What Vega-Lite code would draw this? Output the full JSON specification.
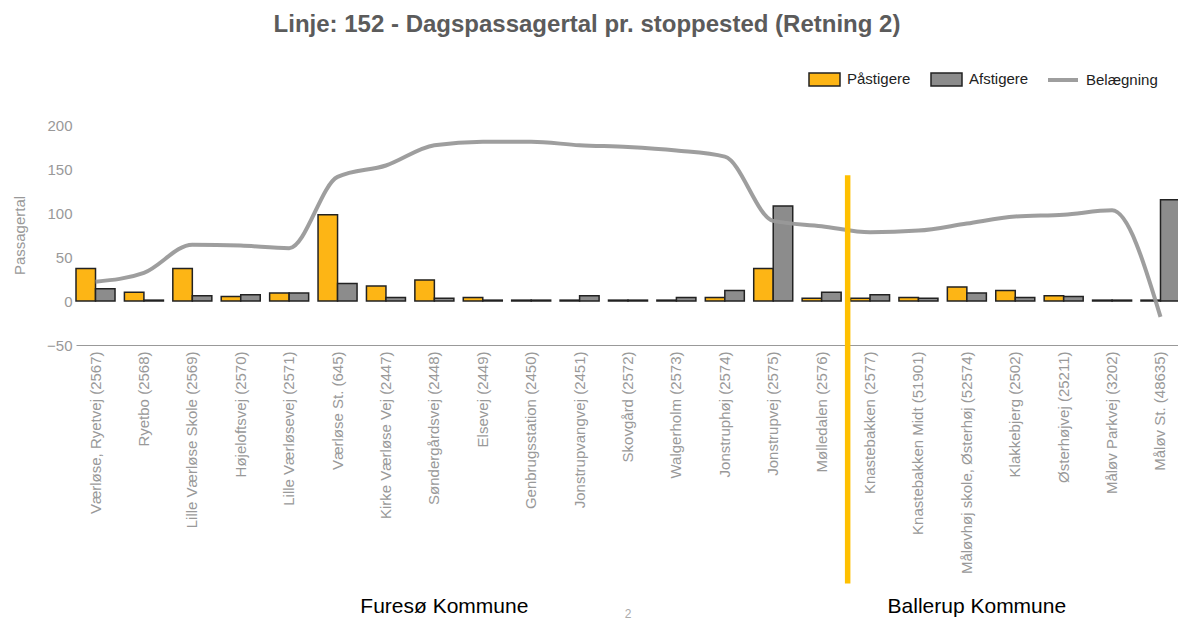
{
  "$schema": "https://vega.github.io/schema/vega-lite/v6.json",
  "autosize": {"type": "none"},
  "width": 1104,
  "height": 220,
  "padding": {"left": 76, "top": 125, "right": 0, "bottom": 277},
  "background": "white",
  "title": {
    "text": "Linje: 152 - Dagspassagertal pr. stoppested (Retning 2)",
    "font": "Liberation Sans",
    "fontSize": 24,
    "fontWeight": "bold",
    "color": "#5b5b5b",
    "anchor": "middle",
    "dx": -41,
    "offset": 26
  },
  "config": {
    "view": {"stroke": null},
    "font": "Liberation Sans"
  },
  "datasets": {
    "stops": [
      {"stop": "Værløse, Ryetvej (2567)", "Påstigere": 37, "Afstigere": 14, "Belægning": 22},
      {"stop": "Ryetbo (2568)", "Påstigere": 10, "Afstigere": 1, "Belægning": 32},
      {"stop": "Lille Værløse Skole (2569)", "Påstigere": 37, "Afstigere": 6, "Belægning": 64},
      {"stop": "Højeloftsvej (2570)", "Påstigere": 5, "Afstigere": 7, "Belægning": 63},
      {"stop": "Lille Værløsevej (2571)", "Påstigere": 9, "Afstigere": 9, "Belægning": 60},
      {"stop": "Værløse St. (645)", "Påstigere": 98, "Afstigere": 20, "Belægning": 141},
      {"stop": "Kirke Værløse Vej (2447)", "Påstigere": 17, "Afstigere": 4, "Belægning": 154},
      {"stop": "Søndergårdsvej (2448)", "Påstigere": 24, "Afstigere": 3, "Belægning": 177},
      {"stop": "Elsevej (2449)", "Påstigere": 4, "Afstigere": 1, "Belægning": 181},
      {"stop": "Genbrugsstation (2450)", "Påstigere": 1, "Afstigere": 1, "Belægning": 181},
      {"stop": "Jonstrupvangvej (2451)", "Påstigere": 1, "Afstigere": 6, "Belægning": 177},
      {"stop": "Skovgård (2572)", "Påstigere": 1, "Afstigere": 1, "Belægning": 175},
      {"stop": "Walgerholm (2573)", "Påstigere": 1, "Afstigere": 4, "Belægning": 171},
      {"stop": "Jonstruphøj (2574)", "Påstigere": 4, "Afstigere": 12, "Belægning": 164},
      {"stop": "Jonstrupvej (2575)", "Påstigere": 37, "Afstigere": 108, "Belægning": 91},
      {"stop": "Mølledalen (2576)", "Påstigere": 3, "Afstigere": 10, "Belægning": 85},
      {"stop": "Knastebakken (2577)", "Påstigere": 3, "Afstigere": 7, "Belægning": 78},
      {"stop": "Knastebakken Midt (51901)", "Påstigere": 4, "Afstigere": 3, "Belægning": 80},
      {"stop": "Måløvhøj skole, Østerhøj (52574)", "Påstigere": 16, "Afstigere": 9, "Belægning": 88},
      {"stop": "Klakkebjerg (2502)", "Påstigere": 12, "Afstigere": 4, "Belægning": 96},
      {"stop": "Østerhøjvej (25211)", "Påstigere": 6, "Afstigere": 5, "Belægning": 98},
      {"stop": "Måløv Parkvej (3202)", "Påstigere": 1, "Afstigere": 1, "Belægning": 103},
      {"stop": "Måløv St. (48635)", "Påstigere": 1, "Afstigere": 115, "Belægning": -18}
    ],
    "kommuner": [
      {"stop": "Søndergårdsvej (2448)", "tekst": "Furesø Kommune"},
      {"stop": "Måløvhøj skole, Østerhøj (52574)", "tekst": "Ballerup Kommune"}
    ],
    "side": [
      {"stop": "Skovgård (2572)", "tekst": "2"}
    ],
    "graense": [
      {"stop": "Mølledalen (2576)"}
    ]
  },
  "layer": [
    {
      "data": {"name": "stops"},
      "transform": [{"fold": ["Påstigere", "Afstigere"], "as": ["serie", "antal"]}],
      "mark": {"type": "bar", "stroke": "#222222", "strokeWidth": 1.5},
      "encoding": {
        "x": {
          "field": "stop",
          "type": "nominal",
          "scale": {
            "domain": [
              "Værløse, Ryetvej (2567)", "Ryetbo (2568)", "Lille Værløse Skole (2569)", "Højeloftsvej (2570)",
              "Lille Værløsevej (2571)", "Værløse St. (645)", "Kirke Værløse Vej (2447)", "Søndergårdsvej (2448)",
              "Elsevej (2449)", "Genbrugsstation (2450)", "Jonstrupvangvej (2451)", "Skovgård (2572)",
              "Walgerholm (2573)", "Jonstruphøj (2574)", "Jonstrupvej (2575)", "Mølledalen (2576)",
              "Knastebakken (2577)", "Knastebakken Midt (51901)", "Måløvhøj skole, Østerhøj (52574)",
              "Klakkebjerg (2502)", "Østerhøjvej (25211)", "Måløv Parkvej (3202)", "Måløv St. (48635)"
            ],
            "paddingInner": 0.194,
            "paddingOuter": 0
          },
          "axis": {
            "title": null,
            "labelAngle": -90,
            "labelFont": "Liberation Sans",
            "labelFontSize": 15,
            "labelColor": "#999999",
            "labelPadding": 6,
            "labelLimit": 0,
            "labelOverlap": false,
            "ticks": false,
            "grid": false,
            "domainColor": "#999999",
            "domainWidth": 1
          }
        },
        "xOffset": {
          "field": "serie",
          "type": "nominal",
          "scale": {"domain": ["Påstigere", "Afstigere"], "paddingInner": 0, "paddingOuter": 0}
        },
        "y": {
          "field": "antal",
          "type": "quantitative",
          "scale": {"domain": [-50, 200], "nice": false},
          "axis": {
            "title": "Passagertal",
            "titleFont": "Liberation Sans",
            "titleFontSize": 15,
            "titleFontWeight": "normal",
            "titleColor": "#999999",
            "titlePadding": 19,
            "values": [-50, 0, 50, 100, 150, 200],
            "labelFont": "Liberation Sans",
            "labelFontSize": 15,
            "labelColor": "#999999",
            "labelPadding": 4,
            "domain": false,
            "ticks": false,
            "grid": false
          }
        },
        "fill": {
          "field": "serie",
          "type": "nominal",
          "scale": {"domain": ["Påstigere", "Afstigere"], "range": ["#FDB515", "#8C8C8C"]},
          "legend": {
            "title": null,
            "orient": "none",
            "direction": "horizontal",
            "legendX": 732,
            "legendY": -62.5,
            "padding": 0,
            "symbolType": "M-1,-0.42L1,-0.42L1,0.42L-1,0.42Z",
            "symbolSize": 961,
            "symbolStrokeColor": "#222222",
            "symbolStrokeWidth": 1.5,
            "symbolOpacity": 1,
            "labelFont": "Liberation Sans",
            "labelFontSize": 15,
            "labelColor": "#222222",
            "labelOffset": 6,
            "columnPadding": 17
          }
        }
      }
    },
    {
      "data": {"name": "stops"},
      "mark": {"type": "line", "interpolate": "monotone", "strokeWidth": 4, "opacity": 0.95},
      "encoding": {
        "x": {"field": "stop", "type": "nominal"},
        "y": {"field": "Belægning", "type": "quantitative"},
        "stroke": {
          "datum": "Belægning",
          "scale": {"domain": ["Belægning"], "range": ["#999999"]},
          "legend": {
            "title": null,
            "orient": "none",
            "legendX": 970,
            "legendY": -62,
            "padding": 0,
            "symbolType": "stroke",
            "symbolSize": 900,
            "symbolStrokeWidth": 4,
            "labelFont": "Liberation Sans",
            "labelFontSize": 15,
            "labelColor": "#222222",
            "labelOffset": 6
          }
        }
      }
    },
    {
      "data": {"name": "graense"},
      "mark": {"type": "rule", "color": "#FFC000", "strokeWidth": 5.5},
      "encoding": {
        "x": {"field": "stop", "type": "nominal", "bandPosition": 1.167},
        "y": {"datum": 143},
        "y2": {"datum": -321}
      }
    },
    {
      "data": {"name": "kommuner"},
      "mark": {"type": "text", "font": "Liberation Sans", "fontSize": 21, "color": "#000000", "dx": 10, "baseline": "middle"},
      "encoding": {
        "x": {"field": "stop", "type": "nominal"},
        "y": {"datum": -348},
        "text": {"field": "tekst"}
      }
    },
    {
      "data": {"name": "side"},
      "mark": {"type": "text", "font": "Liberation Sans", "fontSize": 12, "color": "#aaaaaa", "baseline": "middle"},
      "encoding": {
        "x": {"field": "stop", "type": "nominal"},
        "y": {"datum": -356},
        "text": {"field": "tekst"}
      }
    }
  ]
}
